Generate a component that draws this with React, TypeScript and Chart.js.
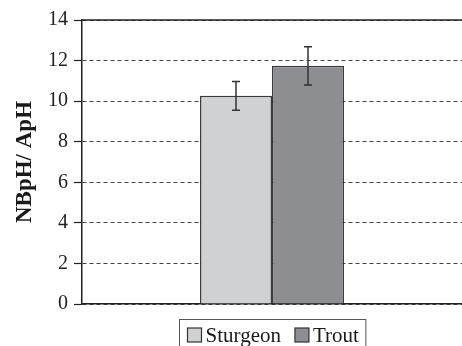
import React, { useEffect, useRef } from "react";
import { Chart, registerables } from "chart.js";

Chart.register(...registerables);

const categories = [""];
const seriesNames = ["Sturgeon", "Trout"];
const seriesValues = [10.26, 11.74];
const seriesErrors = [0.71, 0.94];
const seriesColors = ["#d0d1d3", "#8d8e92"];
const yTicks = [0, 2, 4, 6, 8, 10, 12, 14];
const yTitle = "NBpH/ ApH";

const SERIF = '"Liberation Serif", "Times New Roman", serif';

const errorBarPlugin = {
  id: "errorBars",
  afterDatasetsDraw(chart: any) {
    const ctx = chart.ctx;
    const y = chart.scales.y;
    ctx.save();
    ctx.strokeStyle = "#333";
    ctx.lineWidth = 1.5;
    chart.data.datasets.forEach((ds: any, i: number) => {
      const meta = chart.getDatasetMeta(i);
      meta.data.forEach((bar: any, j: number) => {
        const v = ds.data[j];
        const e = seriesErrors[i];
        const yt = y.getPixelForValue(v + e);
        const yb = y.getPixelForValue(v - e);
        const x = bar.x;
        ctx.beginPath();
        ctx.moveTo(x, yt);
        ctx.lineTo(x, yb);
        ctx.moveTo(x - 4, yt);
        ctx.lineTo(x + 4, yt);
        ctx.moveTo(x - 4, yb);
        ctx.lineTo(x + 4, yb);
        ctx.stroke();
      });
    });
    ctx.restore();
  },
};

const frameLegendPlugin = {
  id: "frameLegend",
  afterDraw(chart: any) {
    const ctx = chart.ctx;
    const a = chart.chartArea;
    ctx.save();
    // solid top line at max value
    ctx.strokeStyle = "#222";
    ctx.lineWidth = 1.5;
    ctx.beginPath();
    ctx.moveTo(a.left, a.top);
    ctx.lineTo(a.right, a.top);
    ctx.stroke();

    // legend
    ctx.font = "21px " + SERIF;
    const box = 14;
    const gapBoxText = 4;
    const gapItems = 14;
    const padL = 8;
    const padR = 7;
    const widths = seriesNames.map((n) => ctx.measureText(n).width);
    let total = padL + padR;
    widths.forEach((w, i) => {
      total += box + gapBoxText + w + (i < widths.length - 1 ? gapItems : 0);
    });
    const cx = (a.left + a.right) / 2;
    const left = Math.round(cx - total / 2) + 0.5;
    const top = 319.5;
    ctx.strokeStyle = "#555";
    ctx.lineWidth = 1;
    ctx.strokeRect(left, top, total, 40);
    let x = left + padL;
    const baseline = 342;
    seriesNames.forEach((n, i) => {
      ctx.fillStyle = seriesColors[i];
      ctx.fillRect(x, 328, box, box);
      ctx.strokeStyle = "#333";
      ctx.lineWidth = 1.2;
      ctx.strokeRect(x, 328, box, box);
      ctx.fillStyle = "#1a1a1a";
      ctx.textBaseline = "alphabetic";
      ctx.textAlign = "left";
      ctx.fillText(n, x + box + gapBoxText, baseline);
      x += box + gapBoxText + widths[i] + gapItems;
    });
    ctx.restore();
  },
};

export default function App() {
  const ref = useRef<HTMLCanvasElement | null>(null);
  useEffect(() => {
    if (!ref.current) return;
    const chart = new Chart(ref.current, {
      type: "bar",
      data: {
        labels: categories,
        datasets: seriesNames.map((name, i) => ({
          label: name,
          data: [seriesValues[i]],
          backgroundColor: seriesColors[i],
          borderColor: "#3a3a3a",
          borderWidth: 1.5,
          categoryPercentage: 0.379,
          barPercentage: 1.0,
        })),
      },
      options: {
        animation: false,
        responsive: true,
        maintainAspectRatio: false,
        layout: { padding: { left: 0, right: 0, top: 20, bottom: 42 } },
        plugins: {
          legend: { display: false },
          tooltip: { enabled: false },
        },
        scales: {
          x: {
            grid: { display: false },
            ticks: { display: false },
            border: { display: true, color: "#222", width: 1.5 },
            afterFit: (s: any) => {
              s.height = 0;
            },
          },
          y: {
            min: 0,
            max: 14,
            afterBuildTicks: (s: any) => {
              s.ticks = yTicks.map((v) => ({ value: v }));
            },
            ticks: {
              stepSize: 2,
              padding: 6,
              color: "#222",
              font: { family: SERIF, size: 20 },
            },
            grid: {
              color: "#444",
              lineWidth: 1,
              tickBorderDash: [],
              tickColor: "#222",
              tickLength: 8,
              tickWidth: 1.2,
            },
            border: { display: true, color: "#222", width: 1.5, dash: [4, 3] },
            title: {
              display: true,
              text: yTitle,
              color: "#1a1a1a",
              font: { family: SERIF, size: 23, weight: "bold" },
              padding: { top: 11, bottom: 0 },
            },
            afterFit: (s: any) => {
              s.width = 82;
            },
          },
        },
      },
      plugins: [errorBarPlugin, frameLegendPlugin],
    });
    return () => chart.destroy();
  }, []);
  return (
    <div style={{ position: "fixed", left: 0, top: 0, width: 462, height: 346, background: "#fff" }}>
      <canvas ref={ref} />
    </div>
  );
}
